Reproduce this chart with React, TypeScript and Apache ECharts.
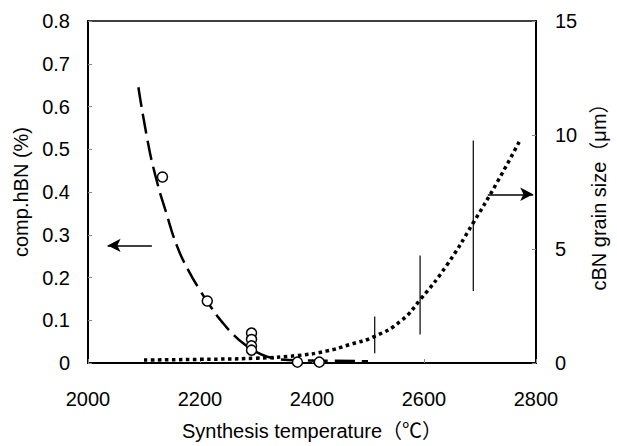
import React, { useEffect, useRef } from "react";
import * as echarts from "echarts";

// x-axis: synthesis temperature (°C)
const xTicks = { min: 2000, max: 2800, interval: 200 };
const leftTicks = { min: 0, max: 0.8, interval: 0.1 };
const rightTicks = { min: 0, max: 15, interval: 5 };

// comp.hBN (%) fitted dashed curve
const hbnCurve: [number, number][] = [
  [2090, 0.645], [2105, 0.53], [2120, 0.44], [2140, 0.35], [2160, 0.27],
  [2180, 0.215], [2200, 0.17], [2220, 0.13], [2240, 0.095], [2260, 0.066],
  [2280, 0.043], [2300, 0.026], [2320, 0.015], [2340, 0.009], [2380, 0.006],
  [2440, 0.005], [2500, 0.004],
];

// comp.hBN (%) measured points (open circles)
const hbnPoints: [number, number][] = [
  [2133, 0.435], [2213, 0.145], [2292, 0.07], [2292, 0.055], [2292, 0.04],
  [2292, 0.03], [2374, 0.002], [2413, 0.002],
];

// cBN grain size (µm) dotted curve
const grainCurve: [number, number][] = [
  [2100, 0.13], [2200, 0.16], [2300, 0.21], [2375, 0.33], [2425, 0.52],
  [2466, 0.8], [2512, 1.17], [2559, 1.85], [2594, 2.8], [2641, 4.3],
  [2688, 6.15], [2730, 7.9], [2770, 9.7],
];

// cBN grain size ranges (vertical bars): [temperature, low, high]
const grainRanges: [number, number, number][] = [
  [2512, 0.43, 2.04],
  [2593, 1.25, 4.72],
  [2688, 3.16, 9.76],
];

// arrows: [x start, x end, y]
const leftArrow: [number, number, number] = [2114, 2035, 0.275];
const rightArrow: [number, number, number] = [2714, 2795, 7.4];

const FONT = "'Liberation Sans', Arial, 'Noto Sans CJK JP', sans-serif";

export default function App() {
  const ref = useRef<HTMLDivElement>(null);
  useEffect(() => {
    if (!ref.current) return;
    const chart = echarts.init(ref.current, undefined, { renderer: "svg" });
    const axisLine = { show: true, lineStyle: { color: "#000", width: 2 } };
    const axisTick = { show: true, inside: true, length: 4, lineStyle: { color: "#888", width: 1 } };
    const labelStyle = { color: "#000", fontSize: 20, fontFamily: FONT };
    const nameStyle = { color: "#000", fontSize: 20, fontFamily: FONT };
    chart.setOption({
      animation: false,
      backgroundColor: "#fff",
      grid: {
        left: 88, right: 73, top: 21, bottom: 79,
        show: true, borderColor: "#000", borderWidth: 1.5, backgroundColor: "transparent",
      },
      xAxis: {
        type: "value", ...xTicks,
        name: "Synthesis temperature（℃）", nameLocation: "middle", nameGap: 58,
        nameTextStyle: nameStyle,
        axisLine, axisTick,
        axisLabel: { ...labelStyle, margin: 26, formatter: (v: number) => String(v) },
        splitLine: { show: false },
      },
      yAxis: [
        {
          type: "value", ...leftTicks, position: "left",
          name: "comp.hBN (%)", nameLocation: "middle", nameGap: 57,
          nameTextStyle: nameStyle,
          axisLine, axisTick,
          axisLabel: { ...labelStyle, margin: 18, formatter: (v: number) => (v === 0 ? "0" : v.toFixed(1)) },
          splitLine: { show: false },
        },
        {
          type: "value", ...rightTicks, position: "right",
          name: "cBN grain size（μm）", nameLocation: "middle", nameGap: 53,
          nameTextStyle: nameStyle,
          axisLine, axisTick,
          axisLabel: { ...labelStyle, margin: 19 },
          splitLine: { show: false },
        },
      ],
      series: [
        {
          type: "line", yAxisIndex: 0, data: hbnCurve, symbol: "none",
          smooth: true,
          lineStyle: { color: "#000", width: 2.5, type: [20, 7] },
          markLine: {
            silent: true, symbol: ["none", "arrow"], symbolSize: [10, 13],
            label: { show: false },
            lineStyle: { color: "#000", width: 1.5, type: "solid" },
            data: [[{ coord: [leftArrow[0], leftArrow[2]] }, { coord: [leftArrow[1], leftArrow[2]] }]],
          },
          z: 3,
        },
        {
          type: "line", yAxisIndex: 1, data: grainCurve, symbol: "none",
          smooth: true,
          lineStyle: { color: "#000", width: 3.5, type: [3.5, 3.5] },
          markLine: {
            silent: true, symbol: ["none", "arrow"], symbolSize: [10, 13],
            label: { show: false },
            lineStyle: { color: "#000", width: 1.5, type: "solid" },
            data: [[{ coord: [rightArrow[0], rightArrow[2]] }, { coord: [rightArrow[1], rightArrow[2]] }]],
          },
          z: 3,
        },
        {
          type: "custom", yAxisIndex: 1, data: grainRanges,
          renderItem: (params: any, api: any) => {
            const p1 = api.coord([api.value(0), api.value(1)]);
            const p2 = api.coord([api.value(0), api.value(2)]);
            return {
              type: "line",
              shape: { x1: p1[0], y1: p1[1], x2: p2[0], y2: p2[1] },
              style: { stroke: "#000", lineWidth: 1.2 },
            };
          },
          encode: { x: 0, y: [1, 2] },
          z: 4,
        },
        {
          type: "scatter", yAxisIndex: 0, data: hbnPoints,
          symbol: "circle", symbolSize: 10,
          itemStyle: { color: "#fff", opacity: 1, borderColor: "#000", borderWidth: 1.5 },
          z: 5,
        },
      ],
    });
    return () => chart.dispose();
  }, []);
  return (
    <div
      ref={ref}
      style={{ position: "absolute", left: 0, top: 0, width: 617, height: 446, background: "#fff" }}
    />
  );
}
